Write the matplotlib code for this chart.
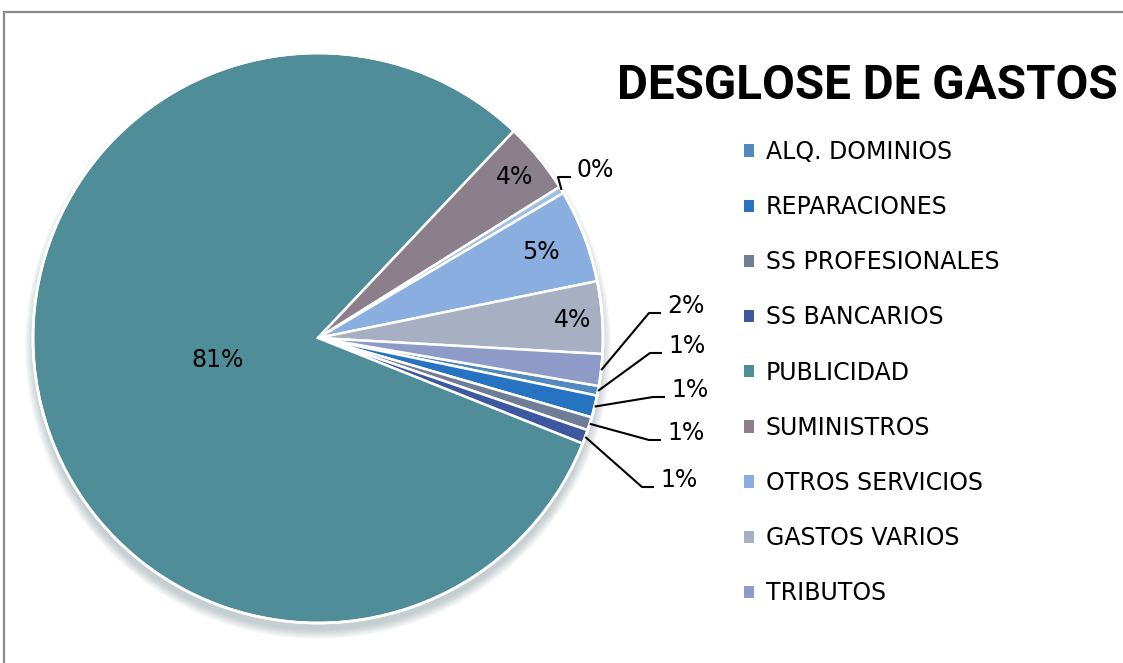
import numpy as np
import matplotlib.pyplot as plt
from matplotlib.patches import Circle, Rectangle, Patch

# data (percent of total)
categories = ["ALQ. DOMINIOS", "REPARACIONES", "SS PROFESIONALES", "SS BANCARIOS",
              "PUBLICIDAD", "SUMINISTROS", "OTROS", "OTROS SERVICIOS",
              "GASTOS VARIOS", "TRIBUTOS"]
values = [0.55, 1.25, 0.75, 0.8, 81.1, 4.05, 0.4, 5.3, 4.1, 1.8]
in_legend = [True, True, True, True, True, True, False, True, True, True]
colors = ["#5289BE", "#2673C1", "#6F7E96", "#3E58A0", "#4F8E98",
          "#8A7F8B", "#9DC0E4", "#8AAEE0", "#A7B0C3", "#8E9BC8"]

W, H = 1123, 663
fig = plt.figure(figsize=(W / 100, H / 100), dpi=100)
ax = fig.add_axes([0, 0, 1, 1])
cx, cy, r = 318, H - 338, 285

# chart frame (cut off on the right and bottom)
ax.add_patch(Rectangle((4, -30), 1300, H - 12 + 30, fill=False,
                       edgecolor="#898989", linewidth=1.6, zorder=0))

# soft shadow under the pie
for i in range(10):
    ax.add_patch(Circle((cx, cy - 8), r + 8 - i, facecolor="#4d6a70",
                        edgecolor="none", alpha=0.035, zorder=1))

wedges, _ = ax.pie(values, colors=colors, startangle=-9.7, counterclock=False,
                   center=(cx, cy), radius=r, frame=True,
                   wedgeprops=dict(edgecolor="white", linewidth=1.8, zorder=2))
ax.add_patch(Circle((cx, cy), r, fill=False, edgecolor="white", linewidth=2, zorder=3))

ax.set_xlim(0, W)
ax.set_ylim(0, H)
ax.set_aspect("equal")
ax.axis("off")

total = sum(values)
pcts = [f"{v / total * 100:.0f}%" for v in values]

# labels inside the slices (radius fraction)
inside = {4: 0.36, 5: 0.89, 7: 0.84, 8: 0.895}
# labels outside with leader lines (pixel position of text, y from top)
outside = {6: (577, 170), 9: (667, 306), 0: (668, 346), 1: (671, 390),
           2: (667, 433), 3: (660, 480)}

fs = 17
for i, w in enumerate(wedges):
    mid = np.deg2rad((w.theta1 + w.theta2) / 2)
    if i in inside:
        f = inside[i]
        ax.text(cx + f * r * np.cos(mid), cy + f * r * np.sin(mid), pcts[i],
                ha="center", va="center", fontsize=fs, color="black", zorder=5)
    else:
        tx, ty = outside[i]
        ty = H - ty
        px, py = cx + r * np.cos(mid), cy + r * np.sin(mid)
        ly = ty - 7
        ex = tx - 18 if i != 6 else tx - 19
        ax.plot([px, ex, tx - 6], [py, ly, ly], color="black", lw=1.5, zorder=4,
                solid_capstyle="butt")
        ax.text(tx, ty, pcts[i], ha="left", va="center", fontsize=fs, zorder=5)

handles = [Patch(facecolor=c, edgecolor="none") for c, k in zip(colors, in_legend) if k]
labels = [n for n, k in zip(categories, in_legend) if k]
ax.legend(handles, labels, loc="upper left", bbox_to_anchor=(744 / W, 1 - 140 / H),
          frameon=False, fontsize=fs, handlelength=0.42, handleheight=0.42,
          handletextpad=0.5, labelspacing=1.32, borderpad=0, borderaxespad=0)

fig.text(617 / W, 1 - 99 / H, "DESGLOSE DE GASTOS", fontsize=34.3,
         fontweight="bold", family="Roboto", ha="left", va="baseline")

fig.savefig("out.png", dpi=100)
